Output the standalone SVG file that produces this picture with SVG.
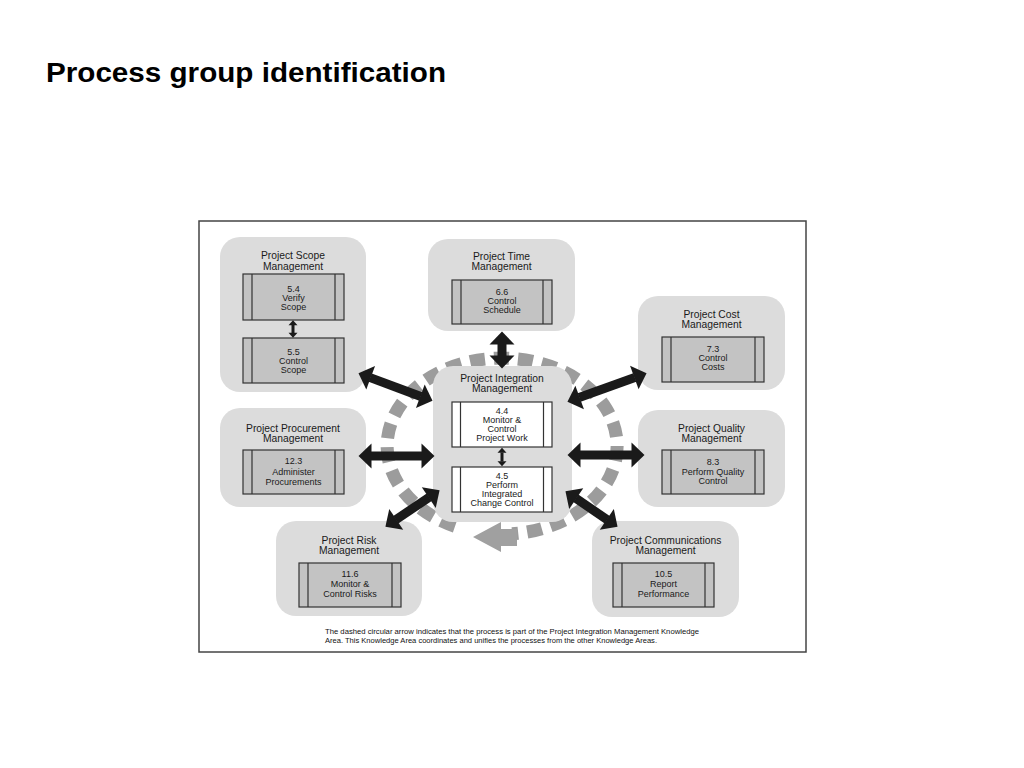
<svg xmlns="http://www.w3.org/2000/svg" width="1024" height="768" viewBox="0 0 1024 768">
<defs>
<style>
.title{font-family:"Liberation Sans",Arial,sans-serif;font-weight:bold;font-size:27.5px;fill:#000}
.ka{fill:#dcdcdc}
.kt{font-family:"Liberation Sans",Arial,sans-serif;font-size:10.3px;fill:#1a1a1a;text-anchor:middle}
.pt{font-family:"Liberation Sans",Arial,sans-serif;font-size:9px;fill:#1a1a1a;text-anchor:middle}
.pb{fill:#c3c3c3;stroke:#333;stroke-width:1.2}
.pw{fill:#fff;stroke:#333;stroke-width:1.2}
.bar{fill:none;stroke:#333;stroke-width:1.2}
.big{stroke:#1a1a1a;stroke-width:9;fill:none;marker-start:url(#ah);marker-end:url(#ah)}
.small{stroke:#1a1a1a;stroke-width:3;fill:none;marker-start:url(#sh);marker-end:url(#sh)}
.note{font-family:"Liberation Sans",Arial,sans-serif;font-size:7px;fill:#111}
</style>
<marker id="ah" markerUnits="userSpaceOnUse" markerWidth="20" markerHeight="30" refX="0.5" refY="12.5" orient="auto-start-reverse" overflow="visible">
<path d="M0,0 L13,12.5 L0,25 Z" fill="#1a1a1a"/>
</marker>
<marker id="sh" markerUnits="userSpaceOnUse" markerWidth="10" markerHeight="12" refX="0.3" refY="4.5" orient="auto-start-reverse" overflow="visible">
<path d="M0,0 L5,4.5 L0,9 Z" fill="#1a1a1a"/>
</marker>
</defs>
<rect width="1024" height="768" fill="#fff"/>
<text class="title" x="46" y="82" textLength="400" lengthAdjust="spacingAndGlyphs">Process group identification</text>
<rect x="199" y="221" width="607" height="431" fill="#fff" stroke="#444" stroke-width="1.5"/>

<g id="cycle">
<path d="M455,526.4 A115,88 0 1 1 512,533.8" fill="none" stroke="#9c9c9c" stroke-width="13" stroke-dasharray="15 9"/>
<polygon points="473,537 501,522 501,529 517,529 517,546 501,546 501,552" fill="#a0a0a0"/>
</g>

<g id="scope">
<rect class="ka" x="220" y="237" width="146" height="155" rx="20"/>
<text class="kt" x="293" y="259">Project Scope</text>
<text class="kt" x="293" y="269.5">Management</text>
<rect class="pb" x="243" y="274" width="101" height="46"/>
<path class="bar" d="M252,274V320M335,274V320"/>
<text class="pt" x="293.5" y="291.5">5.4</text>
<text class="pt" x="293.5" y="300.5">Verify</text>
<text class="pt" x="293.5" y="310">Scope</text>
<rect class="pb" x="243" y="338" width="101" height="45"/>
<path class="bar" d="M252,338V383M335,338V383"/>
<text class="pt" x="293.5" y="354.5">5.5</text>
<text class="pt" x="293.5" y="363.5">Control</text>
<text class="pt" x="293.5" y="373">Scope</text>
</g>

<g id="time">
<rect class="ka" x="428" y="239" width="147" height="92" rx="20"/>
<text class="kt" x="501.5" y="259.5">Project Time</text>
<text class="kt" x="501.5" y="270">Management</text>
<rect class="pb" x="452" y="280" width="100" height="44"/>
<path class="bar" d="M461,280V324M543,280V324"/>
<text class="pt" x="502" y="295">6.6</text>
<text class="pt" x="502" y="304">Control</text>
<text class="pt" x="502" y="313">Schedule</text>
</g>

<g id="cost">
<rect class="ka" x="638" y="296" width="147" height="94" rx="20"/>
<text class="kt" x="711.5" y="318">Project Cost</text>
<text class="kt" x="711.5" y="328">Management</text>
<rect class="pb" x="662" y="337" width="102" height="45"/>
<path class="bar" d="M671,337V382M755,337V382"/>
<text class="pt" x="713" y="352">7.3</text>
<text class="pt" x="713" y="361">Control</text>
<text class="pt" x="713" y="370">Costs</text>
</g>

<g id="procurement">
<rect class="ka" x="220" y="408" width="146" height="99" rx="20"/>
<text class="kt" x="293" y="432">Project Procurement</text>
<text class="kt" x="293" y="442">Management</text>
<rect class="pb" x="243" y="450" width="101" height="44"/>
<path class="bar" d="M252,450V494M335,450V494"/>
<text class="pt" x="293.5" y="464">12.3</text>
<text class="pt" x="293.5" y="474.5">Administer</text>
<text class="pt" x="293.5" y="484.5">Procurements</text>
</g>

<g id="quality">
<rect class="ka" x="638" y="410" width="147" height="97" rx="20"/>
<text class="kt" x="711.5" y="432">Project Quality</text>
<text class="kt" x="711.5" y="442">Management</text>
<rect class="pb" x="662" y="450" width="102" height="44"/>
<path class="bar" d="M671,450V494M755,450V494"/>
<text class="pt" x="713" y="465">8.3</text>
<text class="pt" x="713" y="474.5">Perform Quality</text>
<text class="pt" x="713" y="484">Control</text>
</g>

<g id="risk">
<rect class="ka" x="276" y="521" width="146" height="95" rx="20"/>
<text class="kt" x="349" y="543.5">Project Risk</text>
<text class="kt" x="349" y="553.5">Management</text>
<rect class="pb" x="299" y="563" width="102" height="44"/>
<path class="bar" d="M308,563V607M392,563V607"/>
<text class="pt" x="350" y="577">11.6</text>
<text class="pt" x="350" y="587">Monitor &amp;</text>
<text class="pt" x="350" y="597">Control Risks</text>
</g>

<g id="communications">
<rect class="ka" x="592" y="521" width="147" height="96" rx="20"/>
<text class="kt" x="665.5" y="543.5">Project Communications</text>
<text class="kt" x="665.5" y="553.5">Management</text>
<rect class="pb" x="613" y="563" width="101" height="44"/>
<path class="bar" d="M622,563V607M705,563V607"/>
<text class="pt" x="663.5" y="577">10.5</text>
<text class="pt" x="663.5" y="587">Report</text>
<text class="pt" x="663.5" y="596.5">Performance</text>
</g>

<g id="integration">
<rect class="ka" x="433" y="366" width="139" height="156" rx="20"/>
<text class="kt" x="502" y="382">Project Integration</text>
<text class="kt" x="502" y="392">Management</text>
<rect class="pw" x="452" y="402" width="100" height="45"/>
<path class="bar" d="M460.5,402V447M543.5,402V447"/>
<text class="pt" x="502" y="414">4.4</text>
<text class="pt" x="502" y="423">Monitor &amp;</text>
<text class="pt" x="502" y="432">Control</text>
<text class="pt" x="502" y="441">Project Work</text>
<rect class="pw" x="452" y="467" width="100" height="45"/>
<path class="bar" d="M460.5,467V512M543.5,467V512"/>
<text class="pt" x="502" y="479">4.5</text>
<text class="pt" x="502" y="487.5">Perform</text>
<text class="pt" x="502" y="496.5">Integrated</text>
<text class="pt" x="502" y="506">Change Control</text>
</g>

<g id="connectors">
<line class="big" x1="502" y1="344" x2="502" y2="356"/>
<line class="big" x1="370.2" y1="377.6" x2="420.8" y2="396.5"/>
<line class="big" x1="634.8" y1="377.4" x2="579.2" y2="397.6"/>
<line class="big" x1="371" y1="456" x2="422" y2="456"/>
<line class="big" x1="580" y1="455" x2="632" y2="455"/>
<line class="big" x1="395.8" y1="519.7" x2="429.2" y2="497.3"/>
<line class="big" x1="575.8" y1="498.3" x2="607.2" y2="519.7"/>
<line class="small" x1="293" y1="325" x2="293" y2="333"/>
<line class="small" x1="502" y1="452.5" x2="502" y2="461.5"/>
</g>

<text class="note" x="325" y="634" textLength="374" lengthAdjust="spacingAndGlyphs">The dashed circular arrow indicates that the process is part of the Project Integration Management Knowledge</text>
<text class="note" x="325" y="643" textLength="332" lengthAdjust="spacingAndGlyphs">Area. This Knowledge Area coordinates and unifies the processes from the other Knowledge Areas.</text>
</svg>
